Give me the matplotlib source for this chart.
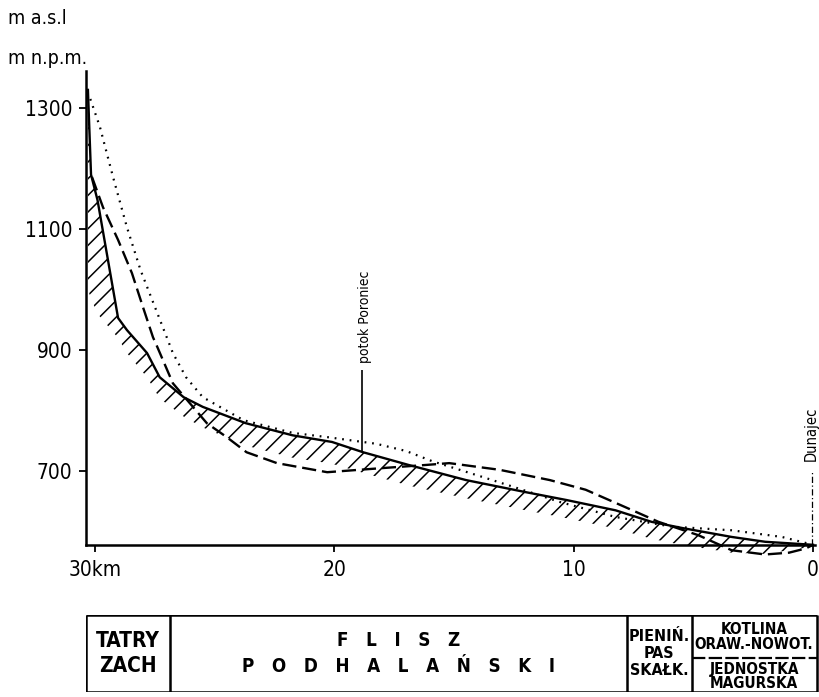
import matplotlib
matplotlib.use("Agg")
from matplotlib import pyplot as plt
from matplotlib import font_manager

# narrow lettering like the original drawing, if such a face is installed
fonts = font_manager.fontManager.ttflist
names = {f.name for f in fonts}
if 'Liberation Sans Narrow' in names:
    plt.rcParams['font.family'] = ['Liberation Sans Narrow', 'DejaVu Sans']
    narrow = True
elif any(f.name == 'DejaVu Sans' and f.stretch == 'condensed' for f in fonts):
    plt.rcParams['font.family'] = ['DejaVu Sans']
    plt.rcParams['font.stretch'] = 'condensed'
    narrow = True
else:
    plt.rcParams['font.family'] = ['DejaVu Sans']
    narrow = False
plt.rcParams['hatch.linewidth'] = 1.1
k = 1.0 if narrow else 0.85

# longitudinal profile, distance from the mouth (km) vs altitude (m a.s.l.)
solid_km = [30.3, 30.17, 29.9, 29.04, 28.67, 27.83, 27.3, 26.3, 25.5, 23.7, 21.75, 20.1,
            18.8, 16.9, 14.5, 12.0, 10.3, 8.25, 6.75, 5.5, 3.4, 2.0, 0.0]
solid_elev = [1330, 1190, 1148, 953, 933, 895, 855, 822, 806, 779, 759, 748,
              731, 710, 685, 665, 652, 635, 616, 606, 591, 583, 578]
# lower edge of the hatched band under the solid profile
hatch_low = [1000, 985, 960, 920, 895, 855, 820, 790, 772, 742, 722, 712,
             697, 676, 655, 635, 622, 605, 588, 578, 565, 563, 575]

dashed_km = [30.13, 29.67, 29.04, 28.46, 28.0, 27.58, 27.4, 26.75, 26.04, 25.33, 24.5, 23.67,
             22.4, 20.3, 18.96, 17.58, 16.17, 15.2, 13.1, 11.0, 9.5, 7.83, 6.46, 4.8,
             3.4, 2.0, 1.0, 0.3, 0.0]
dashed_elev = [1186, 1136, 1082, 1027, 971, 921, 905, 845, 812, 779, 756, 731,
               713, 698, 702, 706, 710, 713, 702, 685, 669, 640, 616, 594,
               569, 562, 565, 572, 578]

dotted_km = [30.2, 29.8, 29.25, 28.67, 28.1, 27.4, 26.75, 26.2, 25.5, 23.8, 21.75, 20.3,
             18.25, 17.0, 15.9, 13.8, 11.75, 10.6, 8.25, 5.9, 3.4, 1.3, 0.0]
dotted_elev = [1315, 1269, 1186, 1103, 1032, 961, 895, 855, 822, 784, 763, 756,
               745, 733, 716, 690, 664, 649, 624, 608, 602, 591, 578]

xticks = [30, 20, 10, 0]
xticklabels = ['30km', '20', '10', '0']
yticks = [700, 900, 1100, 1300]

poroniec_km, poroniec_elev, poroniec_top = 18.83, 731, 867
dunajec_km, dunajec_elev, dunajec_top = 0.03, 578, 700

# geological units below the profile
unit_edges = [30.36, 26.87, 7.78, 5.07, -0.15]
unit_names = ['TATRY\nZACH', 'F   L   I   S   Z\nP   O   D   H   A   L   A   Ń   S   K   I',
              'PIENIŃ.\nPAS\nSKAŁK.']
last_unit_top = 'KOTLINA\nORAW.-NOWOT.'
last_unit_bottom = 'JEDNOSTKA\nMAGURSKA'

fig = plt.figure(figsize=(8.19, 6.97), dpi=100)
ax = fig.add_axes([86 / 819, 0.1984, 733 / 819, 0.703])

ax.fill_between(solid_km, solid_elev, hatch_low, facecolor='none', edgecolor='black',
                hatch='//', linewidth=0)
ax.plot(solid_km, solid_elev, color='black', lw=1.7)
ax.plot(dashed_km, dashed_elev, color='black', lw=1.7, dashes=(6, 2.5))
ax.plot(dotted_km, dotted_elev, color='black', lw=1.6, linestyle=(0, (0.8, 2.6)))

ax.vlines(poroniec_km, poroniec_elev, poroniec_top, color='black', lw=1.2)
ax.text(poroniec_km - 0.1, poroniec_top + 12, 'potok Poroniec', rotation=90,
        ha='center', va='bottom', fontsize=10 * k)
ax.vlines(dunajec_km, dunajec_elev, dunajec_top, color='black', lw=0.9,
          linestyles=(0, (5, 2, 1, 2)))
ax.text(dunajec_km + 0.05, dunajec_top + 16, 'Dunajec', rotation=90, ha='center',
        va='bottom', fontsize=10.5 * k)

ax.set_xlim(30.38, -0.25)
ax.set_ylim(555, 1365)
ax.set_xticks(xticks)
ax.set_xticklabels(xticklabels)
ax.set_yticks(yticks)
ax.tick_params(direction='out', length=5, width=1.3, labelsize=15 * k, pad=5)
ax.tick_params(axis='x', pad=6)
for s in ['top', 'right']:
    ax.spines[s].set_visible(False)
ax.spines['bottom'].set_position(('data', 578))
ax.spines['bottom'].set_bounds(-0.1, 30.38)
ax.spines['left'].set_bounds(578, 1362)
for s in ['bottom', 'left']:
    ax.spines[s].set_linewidth(1.8)
ax.patch.set_visible(False)

fig.text(8 / 819, 1 - 18 / 697, 'm a.s.l', fontsize=14 * k, va='center')
fig.text(8 / 819, 1 - 58 / 697, 'm n.p.m.', fontsize=14 * k, va='center')

# unit strip
tax = fig.add_axes([86 / 819, 5 / 697, 733 / 819, 77 / 697])
tax.set_xlim(30.38, -0.25)
tax.set_ylim(0, 1)
tax.axis('off')
tax.hlines([0, 1], unit_edges[0], unit_edges[-1], color='black', lw=1.8)
tax.vlines(unit_edges, 0, 1, color='black', lw=1.8)
tax.hlines(0.44, unit_edges[3], unit_edges[4], color='black', lw=1.6, linestyles=(0, (6, 1.5)))
sizes = [15, 13.5, 11.5]
spacing = [1.35, 1.5, 1.15]
for i, name in enumerate(unit_names):
    mid = (unit_edges[i] + unit_edges[i + 1]) / 2
    tax.text(mid, 0.5, name, ha='center', va='center', fontsize=sizes[i] * k,
             fontweight='bold', linespacing=spacing[i])
mid = (unit_edges[3] + unit_edges[4]) / 2
tax.text(mid, 0.71, last_unit_top, ha='center', va='center', fontsize=11 * k,
         fontweight='bold', linespacing=1.0)
tax.text(mid, 0.2, last_unit_bottom, ha='center', va='center', fontsize=11 * k,
         fontweight='bold', linespacing=0.95)

fig.savefig('out.png', dpi=100)
